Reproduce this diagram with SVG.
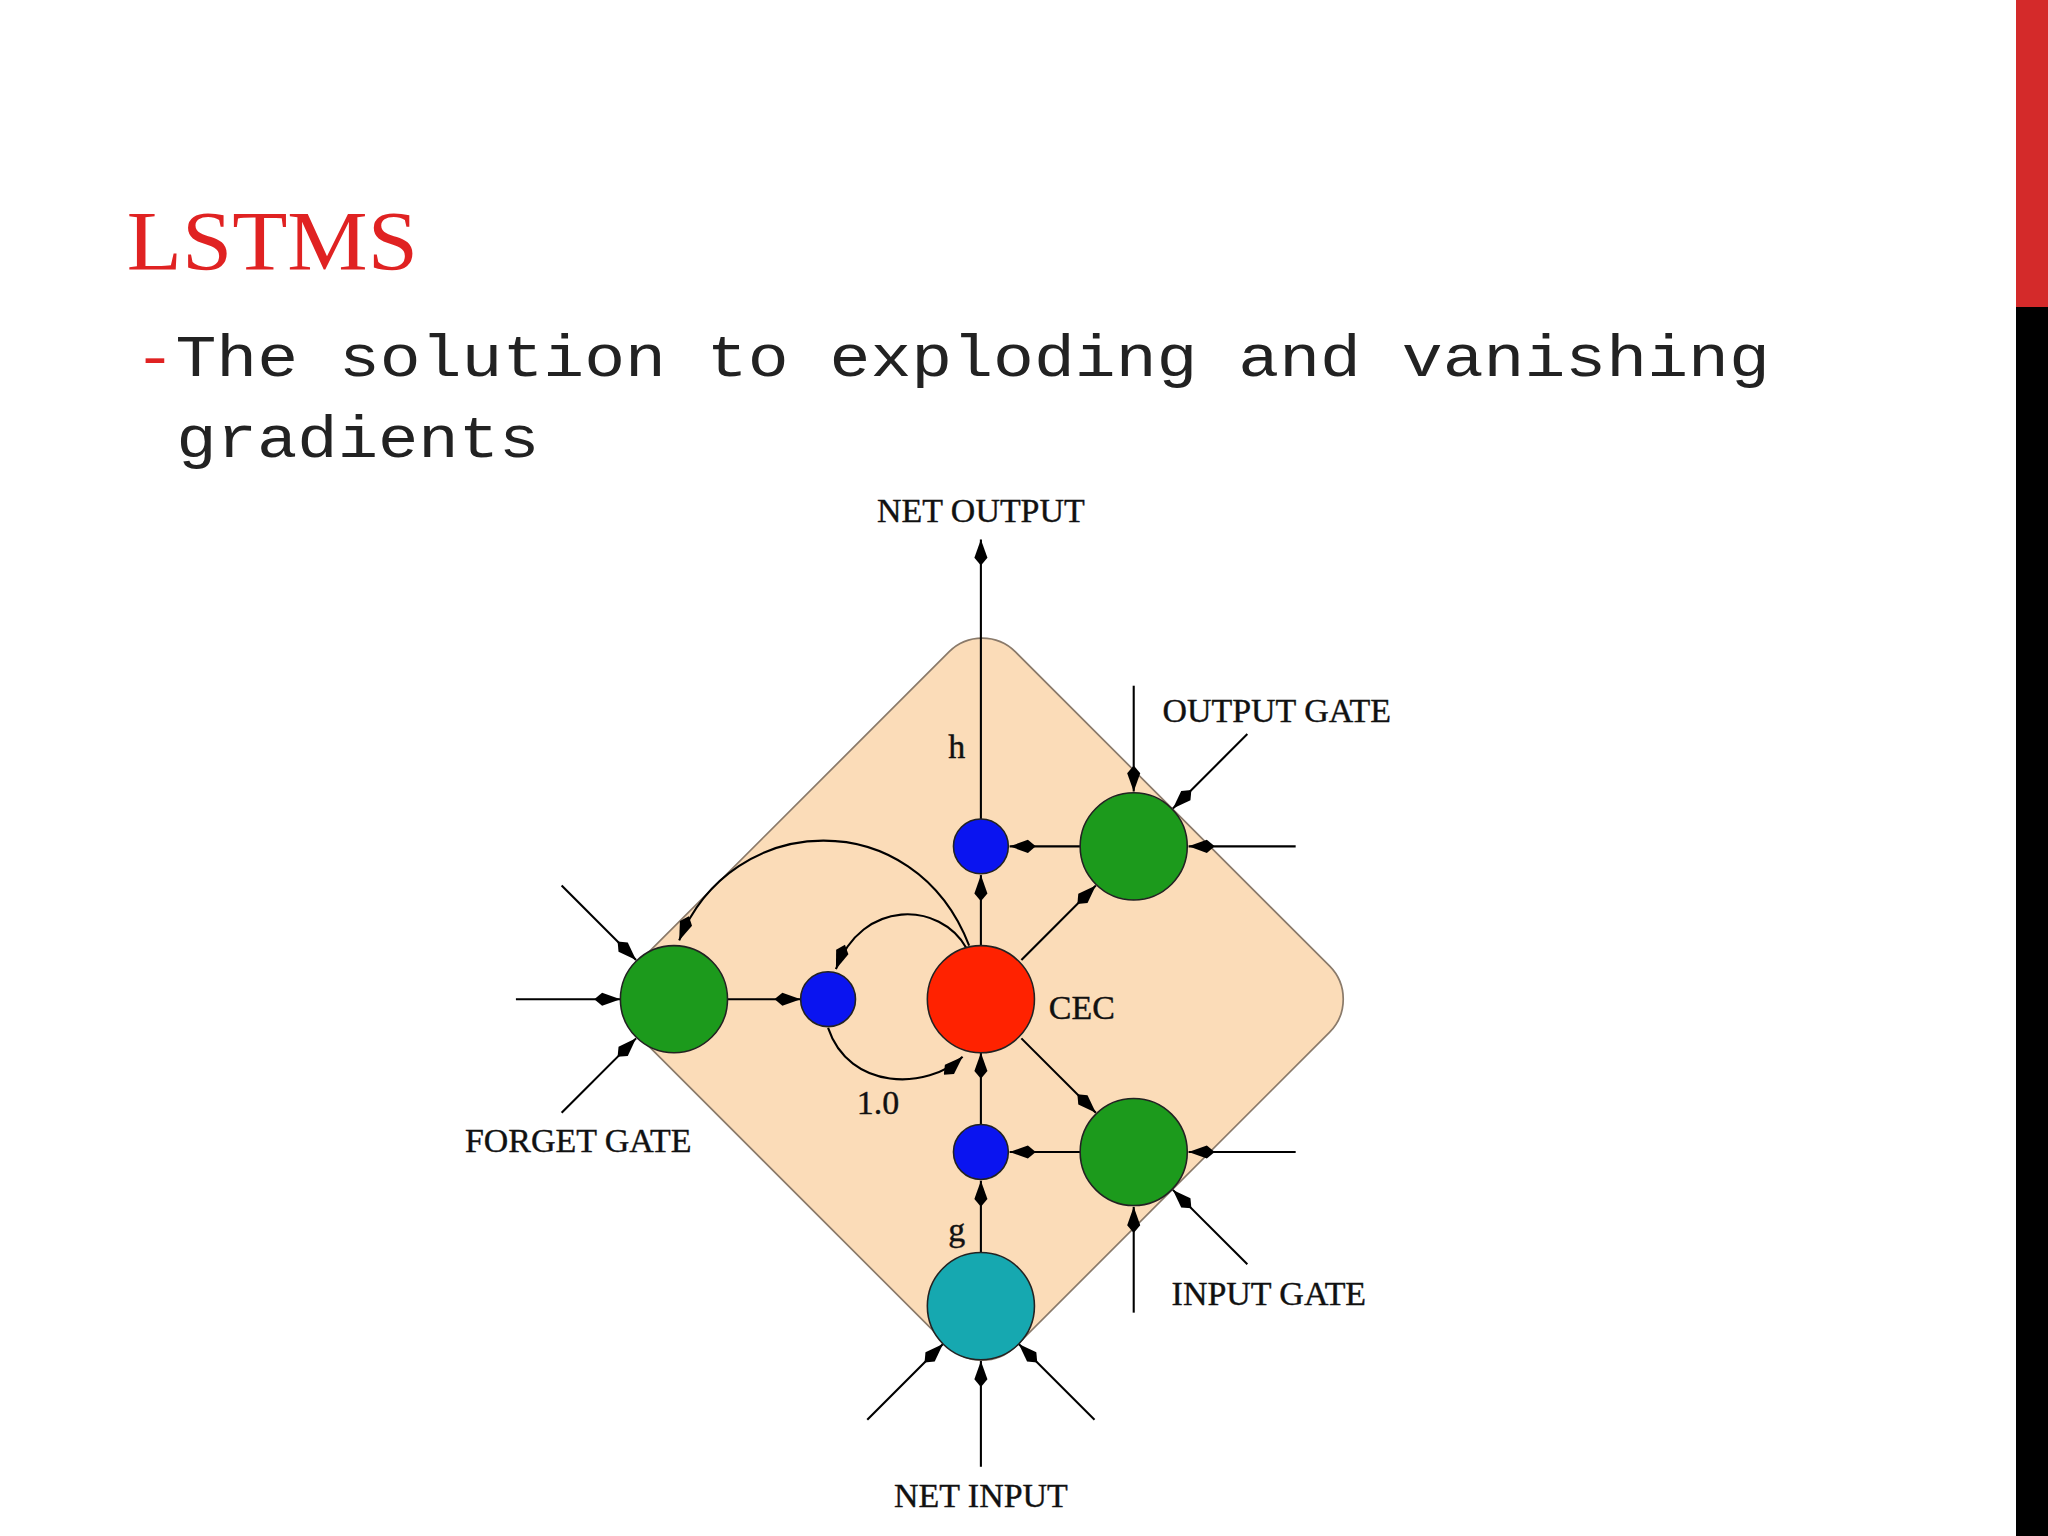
<svg xmlns="http://www.w3.org/2000/svg" width="2048" height="1536" viewBox="0 0 2048 1536">
<defs>
<style>
.c{stroke:#000;stroke-width:1.6;fill:none}
.n{stroke:#222;stroke-width:1.2}
.l{font-family:"Liberation Serif",serif;font-size:26px;fill:#111;stroke:#111;stroke-width:0.3}
</style>
<marker id="a" markerUnits="userSpaceOnUse" markerWidth="22" markerHeight="12" refX="20" refY="6" orient="auto">
<path d="M0,6 L6,1 L20,6 L6,11 z" fill="#000"/>
</marker>
</defs>
<rect width="2048" height="1536" fill="#fff"/>
<rect x="2016" y="0" width="32" height="307" fill="#d42a2a"/>
<rect x="2016" y="307" width="32" height="1229" fill="#000"/>
<g id="title" transform="scale(1.30612)">
<text x="97" y="207" font-family="Liberation Serif,serif" font-size="64" fill="#e02222" textLength="223" lengthAdjust="spacingAndGlyphs">LSTMS</text>
<text x="103" y="288" font-family="Liberation Mono,monospace" font-size="45" fill="#222" textLength="1252" lengthAdjust="spacingAndGlyphs"><tspan fill="#e02222">-</tspan>The solution to exploding and vanishing</text>
<text x="135" y="350" font-family="Liberation Mono,monospace" font-size="45" fill="#222" textLength="278" lengthAdjust="spacingAndGlyphs">gradients</text>
</g>
<g transform="scale(1.30612)">
<g id="cell"><rect x="-206" y="-206" width="412" height="412" rx="36" transform="translate(752,765) rotate(45)" fill="#fbdcb8" stroke="#8a7a6a" stroke-width="1.3"/></g>
<g id="connectors">
<line class="c" x1="751" y1="627" x2="751" y2="413" marker-end="url(#a)"/>
<line class="c" x1="868" y1="525" x2="868" y2="606" marker-end="url(#a)"/>
<line class="c" x1="955" y1="562" x2="898" y2="619" marker-end="url(#a)"/>
<line class="c" x1="992" y1="648" x2="910" y2="648" marker-end="url(#a)"/>
<line class="c" x1="827" y1="648" x2="773" y2="648" marker-end="url(#a)"/>
<line class="c" x1="782" y1="735" x2="839" y2="678" marker-end="url(#a)"/>
<line class="c" x1="751" y1="724" x2="751" y2="670" marker-end="url(#a)"/>
<line class="c" x1="992" y1="882" x2="910" y2="882" marker-end="url(#a)"/>
<line class="c" x1="955" y1="968" x2="898" y2="911" marker-end="url(#a)"/>
<line class="c" x1="868" y1="1005" x2="868" y2="924" marker-end="url(#a)"/>
<line class="c" x1="827" y1="882" x2="773" y2="882" marker-end="url(#a)"/>
<line class="c" x1="782" y1="795" x2="839" y2="852" marker-end="url(#a)"/>
<line class="c" x1="751" y1="861" x2="751" y2="806" marker-end="url(#a)"/>
<line class="c" x1="751" y1="959" x2="751" y2="904" marker-end="url(#a)"/>
<line class="c" x1="751" y1="1123" x2="751" y2="1042" marker-end="url(#a)"/>
<line class="c" x1="664" y1="1087" x2="722" y2="1029" marker-end="url(#a)"/>
<line class="c" x1="838" y1="1087" x2="780" y2="1029" marker-end="url(#a)"/>
<line class="c" x1="395" y1="765" x2="475" y2="765" marker-end="url(#a)"/>
<line class="c" x1="430" y1="678" x2="487" y2="735" marker-end="url(#a)"/>
<line class="c" x1="430" y1="852" x2="487" y2="795" marker-end="url(#a)"/>
<line class="c" x1="557" y1="765" x2="613" y2="765" marker-end="url(#a)"/>
<path class="c" d="M740,726 C720,690 660,688 640,742" marker-end="url(#a)"/>
<path class="c" d="M634,787 C650,835 710,835 737,809" marker-end="url(#a)"/>
<path class="c" d="M742,724 C700,615 560,620 520,720" marker-end="url(#a)"/>
</g>
<g id="forget"><circle class="n" cx="516" cy="765" r="41" fill="#1c9a1c"/></g>
<g id="outgate"><circle class="n" cx="868" cy="648" r="41" fill="#1c9a1c"/></g>
<g id="ingate"><circle class="n" cx="868" cy="882" r="41" fill="#1c9a1c"/></g>
<g id="cec"><circle class="n" cx="751" cy="765" r="41" fill="#ff2200"/></g>
<g id="netin"><circle class="n" cx="751" cy="1000" r="41" fill="#16a8b0"/></g>
<g id="b1"><circle class="n" cx="634" cy="765" r="21" fill="#0a14f0"/></g>
<g id="b2"><circle class="n" cx="751" cy="648" r="21" fill="#0a14f0"/></g>
<g id="b3"><circle class="n" cx="751" cy="882" r="21" fill="#0a14f0"/></g>
<g id="labels">
<text class="l" x="751" y="400" text-anchor="middle">NET OUTPUT</text>
<text class="l" x="890" y="553">OUTPUT GATE</text>
<text class="l" x="356" y="882">FORGET GATE</text>
<text class="l" x="897" y="999">INPUT GATE</text>
<text class="l" x="751" y="1154" text-anchor="middle">NET INPUT</text>
<text class="l" x="726" y="580">h</text>
<text class="l" x="726" y="950">g</text>
<text class="l" x="803" y="780">CEC</text>
<text class="l" x="656" y="853">1.0</text>
</g>
</g>
</svg>
